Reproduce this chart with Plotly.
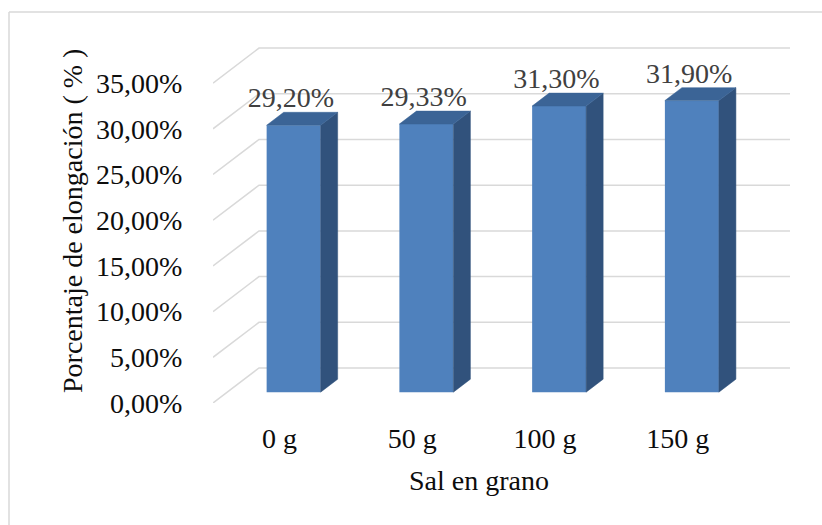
import plotly.graph_objects as go

# ---- data ----
categories = ["0 g", "50 g", "100 g", "150 g"]
values = [29.20, 29.33, 31.30, 31.90]
y_ticks = [0, 5, 10, 15, 20, 25, 30, 35]
x_title = "Sal en grano"
y_title = "Porcentaje de elongación ( % )"


def fmt(v):
    return f"{v:.2f}%".replace(".", ",")


# ---- 3D-look geometry (style) ----
PX_U = 132.75          # pixels per category unit
PX_P = 9.14            # pixels per percent
DEPTH_X = 46 / PX_U    # floor depth, x offset (category units)
DEPTH_Y = 35 / PX_P    # floor depth, y offset (percent units)
F0, F1 = 0.31, 0.68    # bar front/back depth fractions
BAR_W = 54 / PX_U
LABEL_DY = -2 / PX_P   # small label nudge
PLOT_L, PLOT_R, PLOT_T, PLOT_B = 213, 790, 40, 403
W, H = 822, 525
FONT = "'Liberation Serif', 'Times New Roman', Times, serif"

n = len(categories)
grid_c = "#D9D9D9"
front_c = "#4F81BD"
side_c = "#31527C"
top_c = "#3B6496"

fig = go.Figure()

# gridlines (below traces): diagonal on the left wall + horizontal on the back wall
shapes = []
for t in y_ticks:
    shapes.append(dict(type="path", xref="x", yref="y", layer="below",
                       path=f"M 0,{t} L {DEPTH_X},{t + DEPTH_Y} L {n + DEPTH_X},{t + DEPTH_Y}",
                       line=dict(color=grid_c, width=1.5)))

cx = [i + 0.5 + F0 * DEPTH_X for i in range(n)]
base = F0 * DEPTH_Y
ddx = (F1 - F0) * DEPTH_X
ddy = (F1 - F0) * DEPTH_Y

# front faces
fig.add_trace(go.Bar(x=cx, y=values, base=base, width=BAR_W,
                     marker=dict(color=front_c, line=dict(width=0)),
                     showlegend=False, hoverinfo="skip"))

# side and top faces
sx, sy = [], []
tx, ty = [], []
for c, v in zip(cx, values):
    xl, xr = c - BAR_W / 2, c + BAR_W / 2
    top = base + v
    sx += [xr, xr + ddx, xr + ddx, xr, xr, None]
    sy += [base, base + ddy, top + ddy, top, base, None]
    tx += [xl, xr, xr + ddx, xl + ddx, xl, None]
    ty += [top, top, top + ddy, top + ddy, top, None]
fig.add_trace(go.Scatter(x=sx, y=sy, mode="lines", fill="toself",
                         fillcolor=side_c, line=dict(color=side_c, width=0.5),
                         hoverinfo="skip", showlegend=False))
fig.add_trace(go.Scatter(x=tx, y=ty, mode="lines", fill="toself",
                         fillcolor=top_c, line=dict(color=top_c, width=0.5),
                         hoverinfo="skip", showlegend=False))

# data labels
fig.add_trace(go.Scatter(x=[c - 0.02 for c in cx],
                         y=[base + v + ddy + LABEL_DY for v in values],
                         mode="text", text=[fmt(v) for v in values],
                         textposition="top center",
                         textfont=dict(family=FONT, size=28, color="#404040"),
                         hoverinfo="skip", showlegend=False, cliponaxis=False))

pw = PLOT_R - PLOT_L
ph = PLOT_B - PLOT_T


def pxx(px):
    return (px - PLOT_L) / pw


def pxy(py):
    return (PLOT_B - py) / ph


shapes += [
    dict(type="line", xref="paper", yref="paper", x0=pxx(9), y0=pxy(12),
         x1=pxx(830), y1=pxy(12), line=dict(color=grid_c, width=1.5)),
    dict(type="line", xref="paper", yref="paper", x0=pxx(9), y0=pxy(12),
         x1=pxx(9), y1=pxy(530), line=dict(color=grid_c, width=1.5)),
]

fig.update_layout(
    width=W, height=H, autosize=False,
    margin=dict(l=PLOT_L, r=W - PLOT_R, t=PLOT_T, b=H - PLOT_B, pad=0),
    paper_bgcolor="white", plot_bgcolor="white",
    font=dict(family=FONT, size=28, color="#0D0D0D"),
    barmode="overlay", showlegend=False,
    xaxis=dict(range=[0, n + DEPTH_X], tickvals=[i + 0.5 for i in range(n)],
               ticktext=categories, showgrid=False, zeroline=False, showline=False,
               ticks="outside", ticklen=10, tickcolor="rgba(0,0,0,0)",
               tickfont=dict(family=FONT, size=28, color="#0D0D0D"), fixedrange=True),
    yaxis=dict(range=[0, ph / PX_P], tickvals=y_ticks,
               ticktext=[fmt(t) for t in y_ticks], showgrid=False, zeroline=False,
               showline=False, ticks="outside", ticklen=24,
               tickcolor="rgba(0,0,0,0)", tickfont=dict(family=FONT, size=28, color="#0D0D0D"),
               fixedrange=True),
    annotations=[
        dict(text=y_title, xref="paper", yref="paper", x=pxx(72), y=pxy(221),
             xanchor="center", yanchor="middle", textangle=-90, showarrow=False,
             font=dict(family=FONT, size=28, color="#0D0D0D")),
        dict(text=x_title, xref="paper", yref="paper", x=pxx(479), y=pxy(480),
             xanchor="center", yanchor="middle", showarrow=False,
             font=dict(family=FONT, size=28, color="#0D0D0D")),
    ],
    shapes=shapes,
)

fig.write_html("out.html")
